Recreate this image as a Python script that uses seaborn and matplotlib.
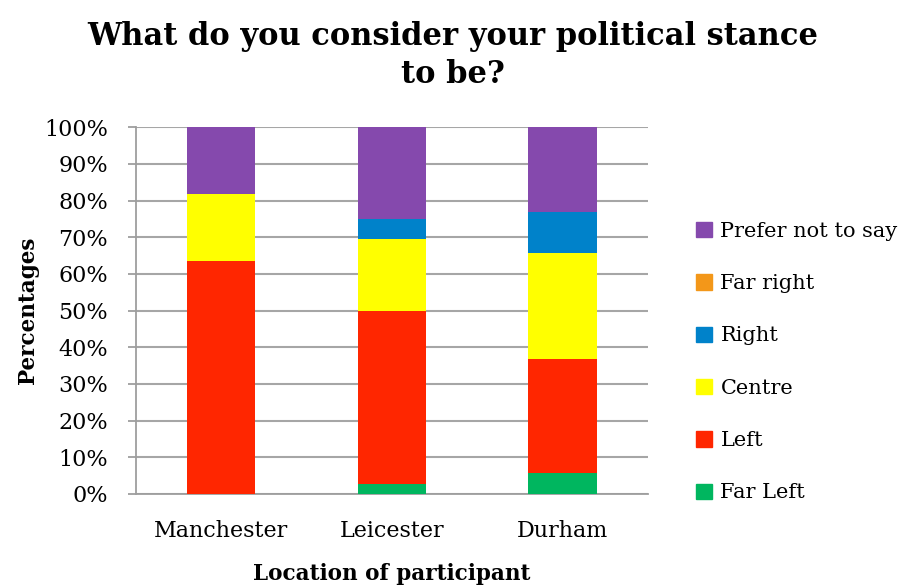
import numpy as np
import matplotlib.pyplot as plt
import seaborn as sns
import pandas as pd
import matplotlib.patches as mpatches

sns.set_theme(style="white")
plt.rcParams['font.family'] = ['DejaVu Serif']
plt.rcParams['text.color'] = 'black'
plt.rcParams['axes.labelcolor'] = 'black'
plt.rcParams['xtick.color'] = 'black'
plt.rcParams['ytick.color'] = 'black'

# data (percent of participants)
locations = ['Manchester', 'Leicester', 'Durham']
stances = ['Far Left', 'Left', 'Centre', 'Right', 'Far right', 'Prefer not to say']
far_left = [0.0, 2.8, 5.6]
left = [63.6, 47.2, 31.1]
centre = [18.2, 19.4, 29.1]
right = [0.0, 5.6, 11.0]
far_right = [0.0, 0.0, 0.0]
prefer_not = [18.2, 25.0, 23.2]

colors = ['#00B65F', '#FF2600', '#FFFF00', '#0082CA', '#F39719', '#8549AD']

df = pd.DataFrame({'Location': locations, 'Far Left': far_left, 'Left': left,
                   'Centre': centre, 'Right': right, 'Far right': far_right,
                   'Prefer not to say': prefer_not})
cum = df[stances].cumsum(axis=1)

fig = plt.figure(figsize=(9.06, 5.86), dpi=100)
ax = fig.add_axes([0.150, 0.157, 0.565, 0.626])

# draw cumulative totals from top down so lower layers cover upper ones
for s, c in reversed(list(zip(stances, colors))):
    sns.barplot(x=df['Location'], y=cum[s], color=c, width=0.4, ax=ax,
                saturation=1, linewidth=0, zorder=3)

ax.set_ylim(0, 100)
ax.set_xlim(-0.5, 2.5)
ax.set_yticks(np.arange(0, 101, 10))
ax.set_yticklabels([f'{v}%' for v in range(0, 101, 10)], fontsize=16)
ax.set_xticks([0, 1, 2])
ax.set_xticklabels(locations, fontsize=16)
ax.set_xticks([0.5, 1.5, 2.5], minor=True)
ax.tick_params(axis='x', which='major', length=0, pad=19)
ax.tick_params(axis='x', which='minor', length=6, color='#9E9E9E', width=1.3, direction='out')
ax.tick_params(axis='y', length=6, color='#9E9E9E', width=1.3, direction='out', pad=14, left=True)
ax.yaxis.grid(True, color='#A6A6A6', linewidth=1.5, zorder=0)
ax.set_axisbelow(True)
for side in ['top', 'right']:
    ax.spines[side].set_visible(False)
for side in ['left', 'bottom']:
    ax.spines[side].set_color('#9E9E9E')
    ax.spines[side].set_linewidth(1.3)

ax.set_xlabel('Location of participant', fontsize=15.5, fontweight='bold', labelpad=15)
ax.set_ylabel('Percentages', fontsize=15.5, fontweight='bold', labelpad=4)

fig.suptitle('What do you consider your political stance\nto be?', fontsize=22,
             fontweight='bold', y=0.965, x=0.5, linespacing=1.3)

handles = [mpatches.Patch(color=c, label=s) for s, c in zip(stances, colors)][::-1]
fig.legend(handles=handles, loc='center left', bbox_to_anchor=(0.748, 0.382),
           frameon=False, fontsize=15, handlelength=0.75, handleheight=0.75,
           handletextpad=0.4, labelspacing=1.6)

fig.savefig('out.png', dpi=100)
